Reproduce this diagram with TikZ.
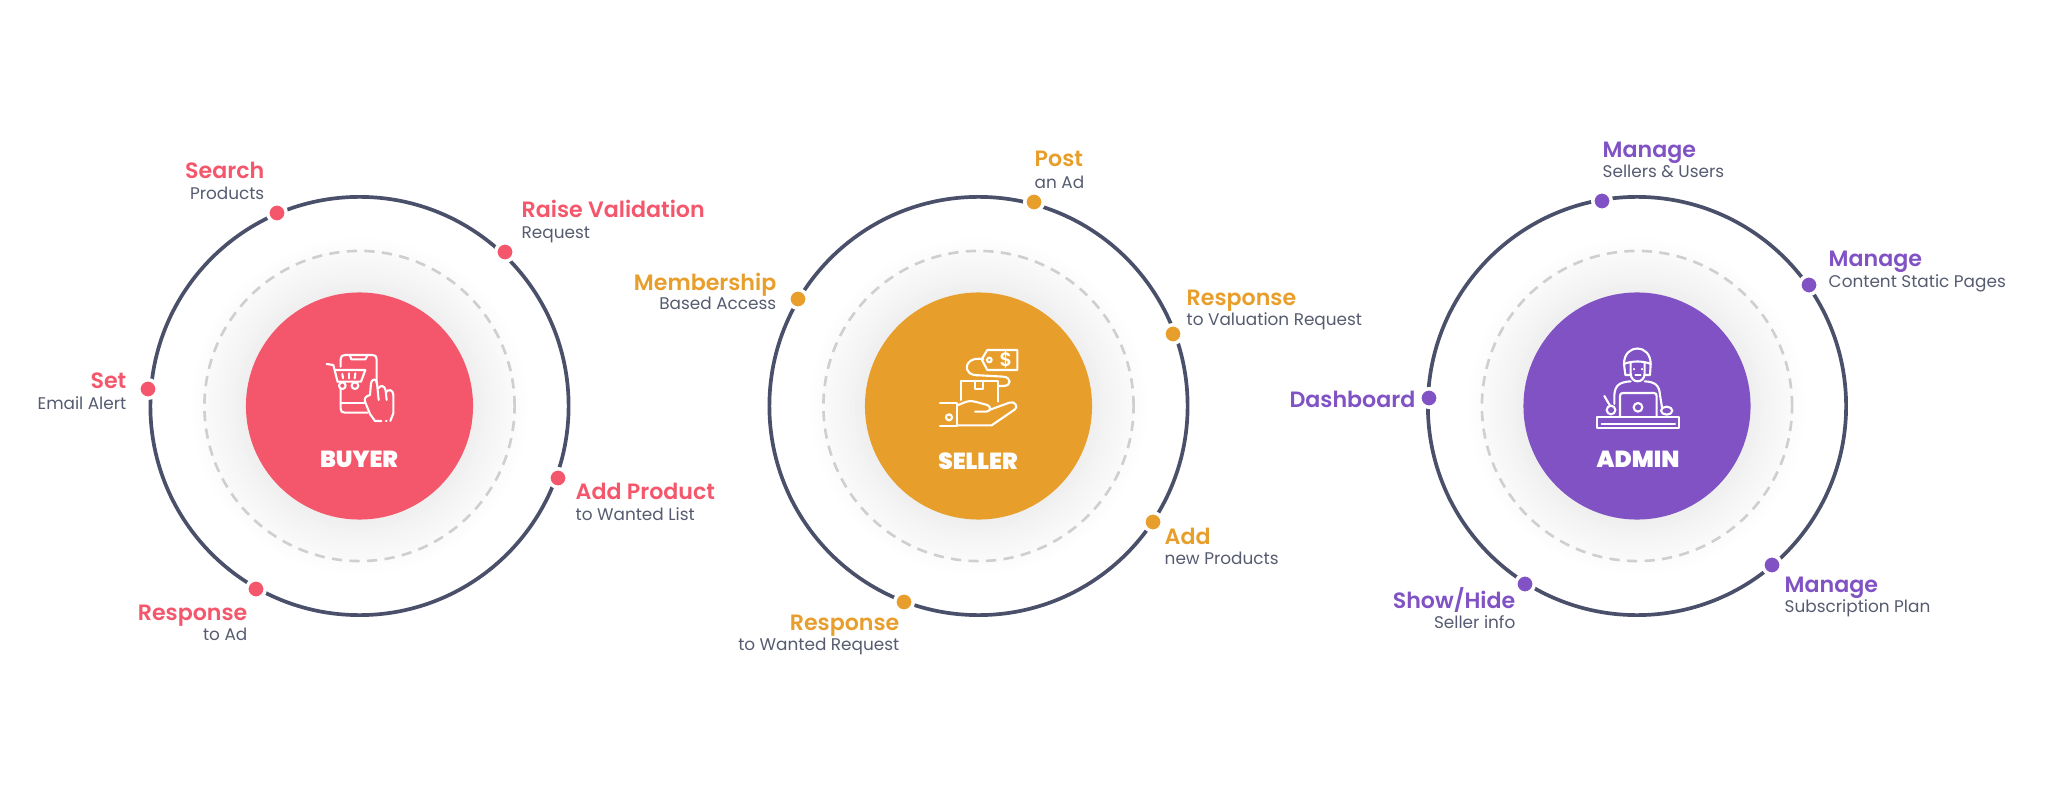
\documentclass[tikz,border=0pt]{standalone}
\usepackage{fontspec}
\setmainfont{Poppins}
\newfontfamily\headfont{Poppins SemiBold}
\newfontfamily\hubfont{Poppins Black}
\definecolor{buyercol}{HTML}{F4566B}
\definecolor{sellercol}{HTML}{E89E2B}
\definecolor{admincol}{HTML}{8052C4}
\definecolor{ringcol}{HTML}{4A4F6A}
\definecolor{subcol}{HTML}{565B70}
\definecolor{dashcol}{HTML}{CFCFCF}
\definecolor{halocol}{HTML}{EFEFEF}
\tikzset{
  ring/.style={circle, draw=ringcol, line width=1.05pt, minimum size=4.18cm},
  dashring/.style={circle, draw=dashcol, line width=0.75pt, dash pattern=on 2.9pt off 2.1pt, minimum size=3.1cm},
  hub/.style={circle, fill=#1, minimum size=2.27cm},
  hubtext/.style={text=white, font=\hubfont\fontsize{6.6}{8}\selectfont},
  dot/.style={circle, fill=#1, draw=white, line width=1pt, minimum size=0.185cm, inner sep=0pt},
  head/.style={text=#1, font=\headfont\fontsize{6.3}{8}\selectfont, inner sep=0pt, text height=5pt, text depth=1.4pt},
  sub/.style={text=subcol, font=\fontsize{4.8}{6}\selectfont, inner sep=0pt, text height=3.7pt, text depth=1pt},
  iconline/.style={draw=white, line width=0.6pt, line cap=round, line join=round}
}
\begin{document}
\begin{tikzpicture}[x=0.01cm, y=-0.01cm]
\useasboundingbox (0,0) rectangle (2048,785);
% soft glow behind the hubs
\foreach \cx in {359.5,978.5,1637}
  \foreach \r in {172,168,...,116} {
    \pgfmathsetmacro\mixv{(172-\r)*1.75}
    \fill[halocol!\mixv!white] (\cx,406) circle (\r);
  }
% buyer
\node[dashring] (buyerdash) at (359.5,406) {};
\node[ring] (buyerring) at (359.5,406) {};
\node[hub=buyercol] (buyerhub) at (359.5,406) {};
\node[hubtext] (buyertext) at (359,459) {BUYER};
\node[dot=buyercol] (searchdot) at (277,213) {};
\node[dot=buyercol] (raisedot) at (505,252) {};
\node[dot=buyercol] (adddot) at (558,478) {};
\node[dot=buyercol] (responsedot) at (256,589) {};
\node[dot=buyercol] (setdot) at (148,389) {};
\node[head=buyercol, anchor=east] (search) at (265,172) {Search};
\node[sub, anchor=east] (searchsub) at (265,195) {Products};
\node[head=buyercol, anchor=west] (raise) at (521,211) {Raise Validation};
\node[sub, anchor=west] (raisesub) at (521,234) {Request};
\node[head=buyercol, anchor=west] (addwanted) at (575,493) {Add Product};
\node[sub, anchor=west] (addwantedsub) at (575,516) {to Wanted List};
\node[head=buyercol, anchor=east] (response) at (248,614) {Response};
\node[sub, anchor=east] (responsesub) at (248,636) {to Ad};
\node[head=buyercol, anchor=east] (setalert) at (127,382) {Set};
\node[sub, anchor=east] (setalertsub) at (127,405) {Email Alert};
\begin{scope}[shift={(280,320)}, scale=0.3333]
\draw[iconline] (182,140) -- (182,118) .. controls (182,109) and (186,105) .. (195,105) -- (277,105) .. controls (286,105) and (290,109) .. (290,118) -- (290,190);
\draw[iconline] (182,205) -- (182,266) .. controls (182,275) and (186,278) .. (195,278) -- (262,278);
\draw[iconline] (210,107) -- (214,118) -- (256,118) -- (262,107);
\draw[iconline] (182,250) -- (255,250);
\draw[iconline] (140,132) -- (160,135) -- (173,186);
\draw[iconline] (165,150) -- (256,150) -- (243,185) -- (175,185);
\draw[iconline] (187,197) circle (10);
\draw[iconline] (225,197) circle (10);
\draw[iconline] (187,162) -- (189,175);
\draw[iconline] (206,160) -- (206,175);
\draw[iconline] (226,160) -- (224,175);
\draw[iconline] (270,282) -- (255,245) .. controls (252,235) and (258,228) .. (270,225) -- (273,190) .. controls (275,175) and (290,175) .. (291,190) -- (296,240);
\draw[iconline] (295,205) .. controls (300,195) and (315,195) .. (317,212) -- (320,240);
\draw[iconline] (318,217) .. controls (325,205) and (340,210) .. (340,225) -- (340,280) -- (331,303);
\draw[iconline] (270,282) -- (285,303) -- (304,303);
\draw[iconline] (318,303) -- (320,303);
\end{scope}
% seller
\node[dashring] (sellerdash) at (978.5,406) {};
\node[ring] (sellerring) at (978.5,406) {};
\node[hub=sellercol] (sellerhub) at (978.5,406) {};
\node[hubtext] (sellertext) at (978,461) {SELLER};
\node[dot=sellercol] (postdot) at (1034,202) {};
\node[dot=sellercol] (valuationdot) at (1173,334) {};
\node[dot=sellercol] (newdot) at (1153,522) {};
\node[dot=sellercol] (wanteddot) at (904,602) {};
\node[dot=sellercol] (memberdot) at (798,299) {};
\node[head=sellercol, anchor=west] (post) at (1034,160) {Post};
\node[sub, anchor=west] (postsub) at (1034,184) {an Ad};
\node[head=sellercol, anchor=west] (valuation) at (1186,299) {Response};
\node[sub, anchor=west] (valuationsub) at (1186,321) {to Valuation Request};
\node[head=sellercol, anchor=west] (newprod) at (1164,538) {Add};
\node[sub, anchor=west] (newprodsub) at (1164,560) {new Products};
\node[head=sellercol, anchor=east] (wanted) at (900,624) {Response};
\node[sub, anchor=east] (wantedsub) at (900,646) {to Wanted Request};
\node[head=sellercol, anchor=east] (member) at (777,284) {Membership};
\node[sub, anchor=east] (membersub) at (777,305) {Based Access};
\begin{scope}[shift={(900,320)}, scale=0.3333]
\draw[iconline] (352,90) -- (262,90) -- (245,118) -- (262,150) -- (352,150) -- cycle;
\draw[iconline] (268,120) circle (7);
\node[text=white, font=\headfont\fontsize{5.5}{6}\selectfont, inner sep=0pt] (tagprice) at (318,120) {\$};
\draw[iconline] (250,118) .. controls (215,110) and (195,130) .. (202,150) .. controls (208,165) and (225,166) .. (240,166) -- (310,170) .. controls (335,172) and (335,198) .. (310,198) -- (295,198);
\draw[iconline] (182,240) -- (182,182) -- (295,182) -- (295,245);
\draw[iconline] (225,182) -- (225,208) -- (248,208) -- (248,182);
\draw[iconline] (120,248) -- (172,248) -- (172,318) -- (120,318);
\draw[iconline] (147,292) circle (9);
\draw[iconline] (172,256) .. controls (190,250) and (205,238) .. (225,245) -- (262,255) .. controls (275,260) and (272,275) .. (258,275) -- (225,275);
\draw[iconline] (268,270) -- (328,248) .. controls (345,242) and (355,260) .. (345,268) -- (275,316) -- (172,316);
\end{scope}
% admin
\node[dashring] (admindash) at (1637,406) {};
\node[ring] (adminring) at (1637,406) {};
\node[hub=admincol] (adminhub) at (1637,406) {};
\node[hubtext] (admintext) at (1638,459) {ADMIN};
\node[dot=admincol] (usersdot) at (1602,201) {};
\node[dot=admincol] (pagesdot) at (1809,285) {};
\node[dot=admincol] (plandot) at (1772,565) {};
\node[dot=admincol] (infodot) at (1525,584) {};
\node[dot=admincol] (dashdot) at (1429,398) {};
\node[head=admincol, anchor=west] (users) at (1602,151) {Manage};
\node[sub, anchor=west] (userssub) at (1602,173) {Sellers \& Users};
\node[head=admincol, anchor=west] (pages) at (1828,260) {Manage};
\node[sub, anchor=west] (pagessub) at (1828,283) {Content Static Pages};
\node[head=admincol, anchor=west] (plan) at (1784,586) {Manage};
\node[sub, anchor=west] (plansub) at (1784,608) {Subscription Plan};
\node[head=admincol, anchor=east] (info) at (1516,602) {Show/Hide};
\node[sub, anchor=east] (infosub) at (1516,624) {Seller info};
\node[head=admincol, anchor=east] (board) at (1416,401) {Dashboard};
\begin{scope}[shift={(1560,320)}, scale=0.3333]
\draw[iconline] (192,132) .. controls (192,70) and (272,70) .. (272,132);
\draw[iconline] (192,132) .. controls (215,122) and (250,122) .. (272,132);
\draw[iconline] (212,130) -- (212,160) .. controls (212,192) and (254,192) .. (254,160) -- (254,130);
\draw[iconline] (192,132) -- (196,165) -- (212,165);
\draw[iconline] (272,132) -- (270,165) -- (254,165);
\draw[iconline] (222,147) -- (222,148);
\draw[iconline] (245,147) -- (245,148);
\draw[iconline] (226,165) -- (242,165);
\draw[iconline] (212,184) .. controls (180,186) and (165,195) .. (163,225) -- (163,252);
\draw[iconline] (254,184) .. controls (285,186) and (298,195) .. (300,225) -- (306,262);
\draw[iconline] (180,290) -- (180,228) .. controls (180,222) and (183,219) .. (189,219) -- (281,219) .. controls (287,219) and (290,222) .. (290,228) -- (290,290);
\draw[iconline] (234,262) circle (13);
\draw[iconline] (153,270) circle (13);
\draw[iconline] (133,228) -- (150,257);
\draw[iconline] (320,272) ellipse (17 and 12);
\draw[iconline] (112,292) rectangle (358,325);
\draw[iconline] (125,312) -- (345,312);
\end{scope}
\end{tikzpicture}
\end{document}
